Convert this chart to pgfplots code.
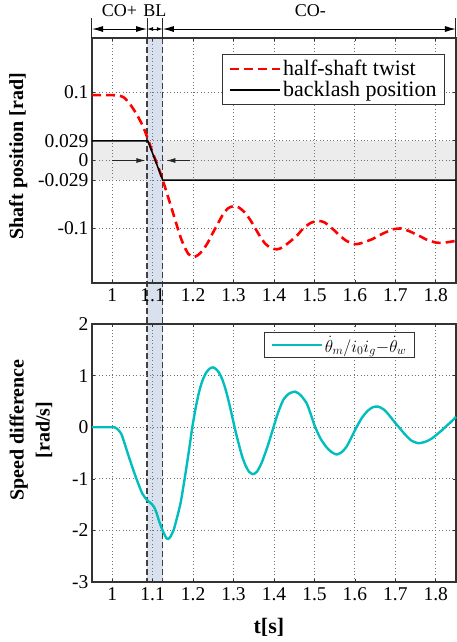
\documentclass[border=0pt]{standalone}
\usepackage{pgfplots}
\pgfplotsset{compat=1.18}
\usepackage{fontspec}
\setmainfont{Liberation Serif}
\usetikzlibrary{arrows.meta}

\definecolor{twist}{RGB}{255,0,0}
\definecolor{speed}{RGB}{0,190,190}
\definecolor{blband}{RGB}{218,225,238}
\definecolor{coband}{RGB}{236,236,236}
\definecolor{gridgray}{RGB}{115,115,115}

% half-shaft twist [rad]
\pgfplotstableread{
t v
0.950 0.096
1.000 0.096
1.015 0.0955
1.028 0.093
1.040 0.086
1.053 0.075
1.065 0.063
1.077 0.049
1.089 0.030
1.101 0.010
1.114 -0.010
1.125 -0.029
1.131 -0.040
1.143 -0.063
1.156 -0.088
1.168 -0.111
1.178 -0.126
1.188 -0.137
1.200 -0.142
1.212 -0.139
1.225 -0.131
1.237 -0.120
1.250 -0.105
1.262 -0.092
1.275 -0.078
1.287 -0.070
1.300 -0.067
1.313 -0.069
1.327 -0.076
1.341 -0.087
1.353 -0.099
1.365 -0.111
1.378 -0.122
1.392 -0.1285
1.407 -0.1305
1.420 -0.128
1.440 -0.119
1.458 -0.1095
1.472 -0.100
1.490 -0.092
1.509 -0.0886
1.525 -0.091
1.546 -0.101
1.562 -0.110
1.579 -0.118
1.600 -0.123
1.612 -0.122
1.628 -0.119
1.645 -0.115
1.660 -0.110
1.678 -0.105
1.695 -0.101
1.715 -0.100
1.735 -0.104
1.760 -0.111
1.780 -0.117
1.800 -0.1205
1.814 -0.121
1.830 -0.120
1.850 -0.118
}\twisttable

% backlash position [rad]
\pgfplotstableread{
t v
0.950 0.029
1.088 0.029
1.125 -0.029
1.850 -0.029
}\backlashtable

% speed difference [rad/s]
\pgfplotstableread{
t v
0.950 0
1.000 0
1.005 0
1.012 -0.03
1.020 -0.10
1.025 -0.18
1.041 -0.57
1.058 -0.96
1.074 -1.28
1.086 -1.41
1.095 -1.47
1.103 -1.54
1.110 -1.67
1.115 -1.80
1.122 -1.95
1.128 -2.06
1.134 -2.15
1.138 -2.17
1.144 -2.12
1.152 -1.99
1.160 -1.76
1.169 -1.47
1.177 -1.10
1.185 -0.70
1.192 -0.33
1.198 0
1.206 0.36
1.214 0.66
1.222 0.88
1.231 1.04
1.240 1.13
1.249 1.16
1.256 1.13
1.263 1.07
1.272 0.93
1.280 0.74
1.288 0.50
1.296 0.23
1.304 -0.05
1.313 -0.33
1.321 -0.56
1.329 -0.73
1.338 -0.86
1.348 -0.91
1.358 -0.86
1.370 -0.68
1.385 -0.35
1.398 -0.02
1.410 0.28
1.423 0.53
1.437 0.65
1.452 0.69
1.466 0.62
1.481 0.46
1.491 0.25
1.501 0.02
1.515 -0.22
1.530 -0.39
1.542 -0.48
1.555 -0.53
1.568 -0.48
1.580 -0.37
1.592 -0.19
1.604 0
1.618 0.19
1.632 0.32
1.645 0.39
1.658 0.40
1.672 0.34
1.685 0.23
1.698 0.10
1.711 -0.02
1.725 -0.15
1.740 -0.26
1.757 -0.31
1.775 -0.28
1.790 -0.22
1.803 -0.14
1.815 -0.06
1.826 0.02
1.840 0.12
1.850 0.20
}\speedtable

\pgfplotsset{
  shaftaxis/.style={
    scale only axis,
    width=364pt,
    xmin=0.95, xmax=1.85,
    xtick={1,1.1,1.2,1.3,1.4,1.5,1.6,1.7,1.8},
    xticklabels={1,1.1,1.2,1.3,1.4,1.5,1.6,1.7,1.8},
    grid=major,
    grid style={gridgray, line width=0.8pt, dash pattern=on 0.8pt off 2.6pt},
    axis line style={black!80, line width=1.1pt},
    tick style={black!80, line width=0.6pt},
    major tick length=3pt,
    tick label style={font=\fontsize{19.5}{22}\selectfont},
    xticklabel style={yshift=-2pt},
    clip=false,
    legend cell align=left,
    legend image code/.code={\draw[##1] (0pt,0pt) -- (50pt,0pt);},
    legend style={draw=black!80, line width=1pt, fill=white,
      inner xsep=6pt, inner ysep=4pt},
  },
}

\begin{document}
\begin{tikzpicture}
\path[use as bounding box] (0pt,0pt) rectangle (457pt,-642pt);

% ---------- shaded windows behind both panels ----------
% vertical scale: shaft position in rad, same as the upper panel
\begin{axis}[
  hide axis, scale only axis,
  at={(92pt,-283pt)}, anchor=south west,
  width=364pt, height=245pt,
  xmin=0.95, xmax=1.85, ymin=-0.18, ymax=0.18,
  clip=false,
]
\addplot[draw=none, fill=coband]
  coordinates {(0.95,-0.029) (1.85,-0.029) (1.85,0.029) (0.95,0.029)};
\addplot[draw=none, fill=blband]
  coordinates {(1.086,0.18) (1.125,0.18) (1.125,-0.6193) (1.086,-0.6193)};
\addplot[black!75, line width=1.1pt, dash pattern=on 6pt off 3pt]
  coordinates {(1.086,0.18) (1.086,-0.6193)};
\addplot[black!75, line width=1.1pt, dash pattern=on 6pt off 3pt]
  coordinates {(1.125,0.18) (1.125,-0.6193)};
\end{axis}

% ---------- shaft position ----------
\begin{axis}[shaftaxis,
  at={(92pt,-283pt)}, anchor=south west,
  height=245pt,
  ymin=-0.18, ymax=0.18,
  ytick={-0.1,-0.029,0,0.029,0.1},
  yticklabels={-0.1,-0.029,0,0.029,0.1},
  ylabel={Shaft position [rad]},
  ylabel style={at={(axis description cs:-0.203,0.518)}, anchor=center,
    font=\bfseries\fontsize{20}{24}\selectfont},
  legend style={at={(axis description cs:0.970,0.935)}, anchor=north east,
    font=\fontsize{22}{25}\selectfont},
]
\addplot[twist, line width=2.6pt, dash pattern=on 9pt off 5pt, smooth, tension=0.4]
  table[x=t, y=v] {\twisttable};
\addlegendentry{half-shaft twist}
\addplot[black, line width=1.5pt] table[x=t, y=v] {\backlashtable};
\addlegendentry{backlash position}

% arrows towards the backlash window
\draw[black!85, line width=0.8pt, -{Latex[length=9pt,width=5pt]}]
  (axis cs:1.0,0) -- (axis cs:1.082,0);
\draw[black!85, line width=0.8pt, -{Latex[length=9pt,width=5pt]}]
  (axis cs:1.193,0) -- (axis cs:1.134,0);

% phase markers above the axis
\draw[black!85, line width=1pt] (axis cs:0.95,0.18) -- (axis cs:0.95,0.2094);
\draw[black!85, line width=1pt] (axis cs:1.086,0.18) -- (axis cs:1.086,0.2094);
\draw[black!85, line width=1pt] (axis cs:1.125,0.18) -- (axis cs:1.125,0.2094);
\draw[black!85, line width=1pt] (axis cs:1.85,0.18) -- (axis cs:1.85,0.2094);
\draw[black, line width=1pt, {Latex[length=11pt,width=6pt]}-{Latex[length=11pt,width=6pt]}]
  (axis cs:0.95,0.1932) -- (axis cs:1.086,0.1932);
\draw[black, line width=1pt, {Latex[length=6pt,width=4pt]}-{Latex[length=6pt,width=4pt]}]
  (axis cs:1.086,0.1932) -- (axis cs:1.125,0.1932);
\draw[black, line width=1pt, {Latex[length=11pt,width=6pt]}-{Latex[length=11pt,width=6pt]}]
  (axis cs:1.125,0.1932) -- (axis cs:1.85,0.1932);
\node[anchor=base, font=\fontsize{18}{20}\selectfont] at (axis cs:1.018,0.2113) {CO+};
\node[anchor=base, font=\fontsize{18}{20}\selectfont] at (axis cs:1.1055,0.2113) {BL};
\node[anchor=base, font=\fontsize{18}{20}\selectfont] at (axis cs:1.49,0.2113) {CO-};
\end{axis}

% ---------- speed difference ----------
\begin{axis}[shaftaxis,
  at={(92pt,-582pt)}, anchor=south west,
  height=258pt,
  ymin=-3, ymax=2,
  ytick={-3,-2,-1,0,1,2},
  yticklabels={-3,-2,-1,0,1,2},
  ylabel={Speed difference\\{[rad/s]}},
  ylabel style={at={(axis description cs:-0.1676,0.589)}, anchor=center,
    align=center, font=\bfseries\fontsize{20}{26}\selectfont},
  xlabel={t[s]},
  xlabel style={at={(axis description cs:0.486,-0.174)}, anchor=center,
    font=\bfseries\fontsize{22}{24}\selectfont},
  legend style={at={(axis description cs:0.887,0.969)}, anchor=north east,
    font=\fontsize{17}{20}\selectfont, inner ysep=2pt},
]
\addplot[speed, line width=2.4pt, line join=round, smooth, tension=0.4]
  table[x=t, y=v] {\speedtable};
\addlegendentry{$\dot{\theta}_m/i_0i_g{-}\dot{\theta}_w$}
\end{axis}
\end{tikzpicture}
\end{document}
